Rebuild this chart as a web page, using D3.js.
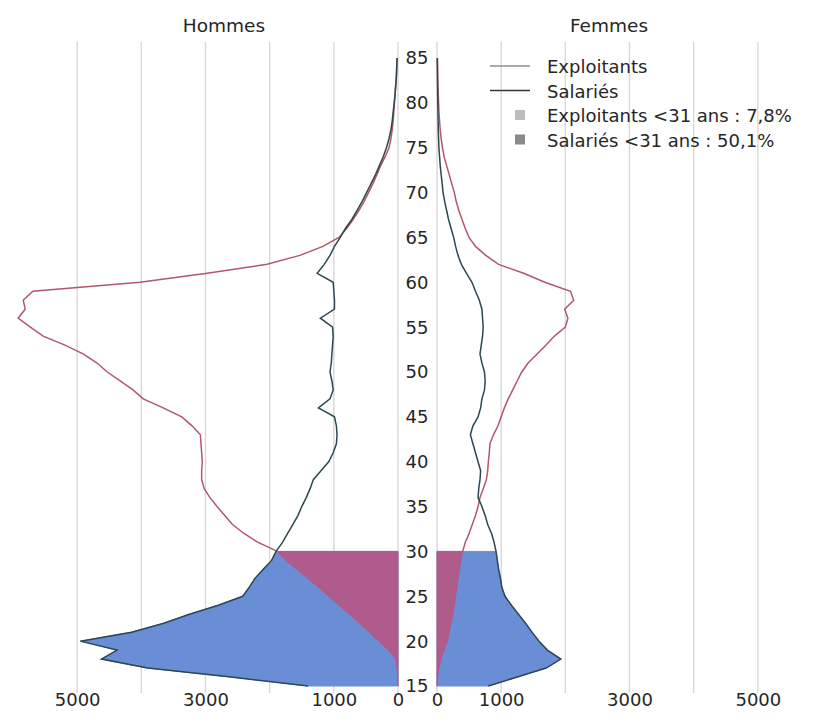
<!DOCTYPE html>
<html>
<head>
<meta charset="utf-8">
<script src="https://cdn.jsdelivr.net/npm/d3@7"></script>
<style>
  body { margin: 0; background: #fff; }
  text { font-family: "DejaVu Sans", sans-serif; fill: #262626; }
</style>
</head>
<body>
<svg id="chart" width="815" height="720"></svg>
<script>
// Pyramide des âges : exploitants vs salariés, par sexe

const ages = d3.range(15, 86);

const hommesExploitants = [
  0, 5, 15, 40, 150, 300, 450, 600, 760, 920, 1080, 1240, 1410, 1580, 1750, 1880,
  2180, 2400, 2580, 2700, 2820, 2930, 3020,
  3060, 3060, 3050, 3060, 3070, 3080, 3210, 3370, 3660, 3970, 4130, 4330, 4530, 4690,
  4900, 5190, 5530, 5730, 5920, 5810, 5840, 5690, 4020, 2975, 2040, 1530, 1170, 920,
  800, 700, 610, 530, 460, 390, 330, 270, 200, 140, 110, 90, 75, 65, 55, 45, 35, 25, 20, 15
];

const hommesSalaries = [
  1400, 2600, 3900, 4620, 4380, 4950, 4150, 3650, 3250, 2800, 2420, 2320, 2230, 2100, 1970, 1900,
  1800, 1720, 1640, 1560, 1500, 1430, 1370,
  1320, 1200, 1080, 1010, 960, 950, 960, 990, 1240, 1060, 1010, 1030, 1060, 1040,
  1030, 1020, 1010, 1020, 1210, 990, 990, 1000, 1010, 1260, 1150, 1060, 990, 900,
  820, 720, 640, 560, 490, 420, 350, 290, 230, 180, 140, 110, 90, 75, 60, 45, 35, 25, 20, 15
];

const femmesExploitants = [
  0, 10, 30, 60, 110, 160, 190, 220, 250, 270, 290, 310, 330, 350, 375, 400,
  440, 500, 550, 600, 640, 670, 720, 770, 790, 800, 815, 826, 880, 950, 1000, 1050,
  1110, 1180, 1250, 1320, 1420, 1560, 1700, 1830, 2000, 2040, 1990, 2130, 2080, 1680,
  1350, 960, 760, 600, 500,
  440, 390, 340, 300, 270, 230, 190, 150, 110, 85, 65, 50, 40, 30, 25, 20, 15, 12, 10, 8
];

const femmesSalaries = [
  800, 1250, 1700, 1930, 1720, 1590, 1480, 1380, 1270, 1160, 1060, 1010, 990, 960, 940, 920,
  890, 850, 790, 750, 700, 640, 650, 670, 680, 640, 600, 560, 520, 560, 640, 680,
  700, 740, 750, 740, 700, 670, 690, 710, 720, 710, 700, 660, 600, 545,
  460, 380, 327, 290, 260,
  220, 180, 150, 120, 95, 80, 65, 50, 40, 30, 25, 20, 18, 15, 12, 10, 8, 6, 5, 4
];

const panelTitles = ["Hommes", "Femmes"];
const xTickValues = [0, 1000, 3000, 5000];
const gridValues = [0, 1000, 2000, 3000, 4000, 5000];
const ageTicks = d3.range(15, 90, 5);
const legendLines = ["Exploitants", "Salariés"];
const legendShares = ["Exploitants <31 ans : 7,8%", "Salariés <31 ans : 50,1%"];
const youngLimit = 30;

const COLORS = {
  exploitants: "#b0586a",
  salaries: "#2c4752",
  fillSalaries: "#6a8ed6",
  fillExploitants: "#c0507a",
  grid: "#d8d8d8",
};

const svg = d3.select("#chart");

const y = d3.scaleLinear().domain([15, 85]).range([686, 58]);
const xLeft = d3.scaleLinear().domain([0, 6000]).range([398, 13]);
const xRight = d3.scaleLinear().domain([0, 6000]).range([437, 822]);

const panels = [
  { title: panelTitles[0], x: xLeft, titleX: 224, exp: hommesExploitants, sal: hommesSalaries },
  { title: panelTitles[1], x: xRight, titleX: 609, exp: femmesExploitants, sal: femmesSalaries },
];

const gridTop = 42;
const gridBottom = 693;

panels.forEach(p => {
  const g = svg.append("g");
  const x = p.x;

  // grid
  g.selectAll(".grid")
    .data(gridValues)
    .enter()
    .append("line")
    .attr("x1", d => x(d))
    .attr("x2", d => x(d))
    .attr("y1", gridTop)
    .attr("y2", gridBottom)
    .attr("stroke", COLORS.grid)
    .attr("stroke-width", 1.4);

  const expPts = ages.map((a, i) => ({ age: a, v: p.exp[i] }));
  const salPts = ages.map((a, i) => ({ age: a, v: p.sal[i] }));

  const area = d3.area()
    .y(d => y(d.age))
    .x0(x(0))
    .x1(d => x(d.v));

  // under-31 fills
  g.append("path")
    .datum(salPts.filter(d => d.age <= youngLimit))
    .attr("d", area)
    .attr("fill", COLORS.fillSalaries)
    .attr("stroke", COLORS.fillSalaries)
    .attr("stroke-width", 1);

  g.append("path")
    .datum(expPts.filter(d => d.age <= youngLimit))
    .attr("d", area)
    .attr("fill", COLORS.fillExploitants)
    .attr("fill-opacity", 0.8)
    .attr("stroke", COLORS.fillExploitants)
    .attr("stroke-opacity", 0.8)
    .attr("stroke-width", 1);

  const line = d3.line()
    .y(d => y(d.age))
    .x(d => x(d.v));

  g.append("path")
    .datum(expPts.filter(d => d.age >= youngLimit))
    .attr("d", line)
    .attr("fill", "none")
    .attr("stroke", COLORS.exploitants)
    .attr("stroke-width", 1.5);

  g.append("path")
    .datum(salPts)
    .attr("d", line)
    .attr("fill", "none")
    .attr("stroke", COLORS.salaries)
    .attr("stroke-width", 1.5);

  // x axis
  const axis = g.append("g")
    .attr("transform", `translate(0,${gridBottom})`)
    .call(d3.axisBottom(x).tickValues(xTickValues).tickSize(0).tickPadding(0).tickFormat(d3.format("d")));
  axis.select(".domain").remove();
  axis.selectAll("text")
    .style("font-family", "DejaVu Sans, sans-serif")
    .style("font-size", "18px")
    .attr("fill", "#262626");

  // title
  g.append("text")
    .attr("x", p.titleX)
    .attr("y", 32)
    .attr("text-anchor", "middle")
    .style("font-size", "18.5px")
    .text(p.title);
});

// age labels between the panels
svg.selectAll(".age")
  .data(ageTicks)
  .enter()
  .append("text")
  .attr("x", 417)
  .attr("y", d => y(d))
  .attr("dy", "0.36em")
  .attr("text-anchor", "middle")
  .style("font-size", "18px")
  .text(d => d);

// legend
const legend = svg.append("g");
const legendColors = ["#8e8e8e", "#353535"];
const shareColors = ["#bdbdbd", "#8a8a8a"];

legendLines.forEach((t, i) => {
  const cy = 66 + i * 24.5;
  legend.append("line")
    .attr("x1", 490).attr("x2", 530)
    .attr("y1", cy).attr("y2", cy)
    .attr("stroke", legendColors[i])
    .attr("stroke-width", 1.6);
  legend.append("text")
    .attr("x", 547).attr("y", cy + 7)
    .style("font-size", "18px")
    .text(t);
});

legendShares.forEach((t, i) => {
  const cy = 115 + i * 24.5;
  legend.append("rect")
    .attr("x", 515).attr("y", cy - 5)
    .attr("width", 10).attr("height", 10)
    .attr("fill", shareColors[i]);
  legend.append("text")
    .attr("x", 547).attr("y", cy + 7)
    .style("font-size", "18px")
    .text(t);
});
</script>
</body>
</html>
